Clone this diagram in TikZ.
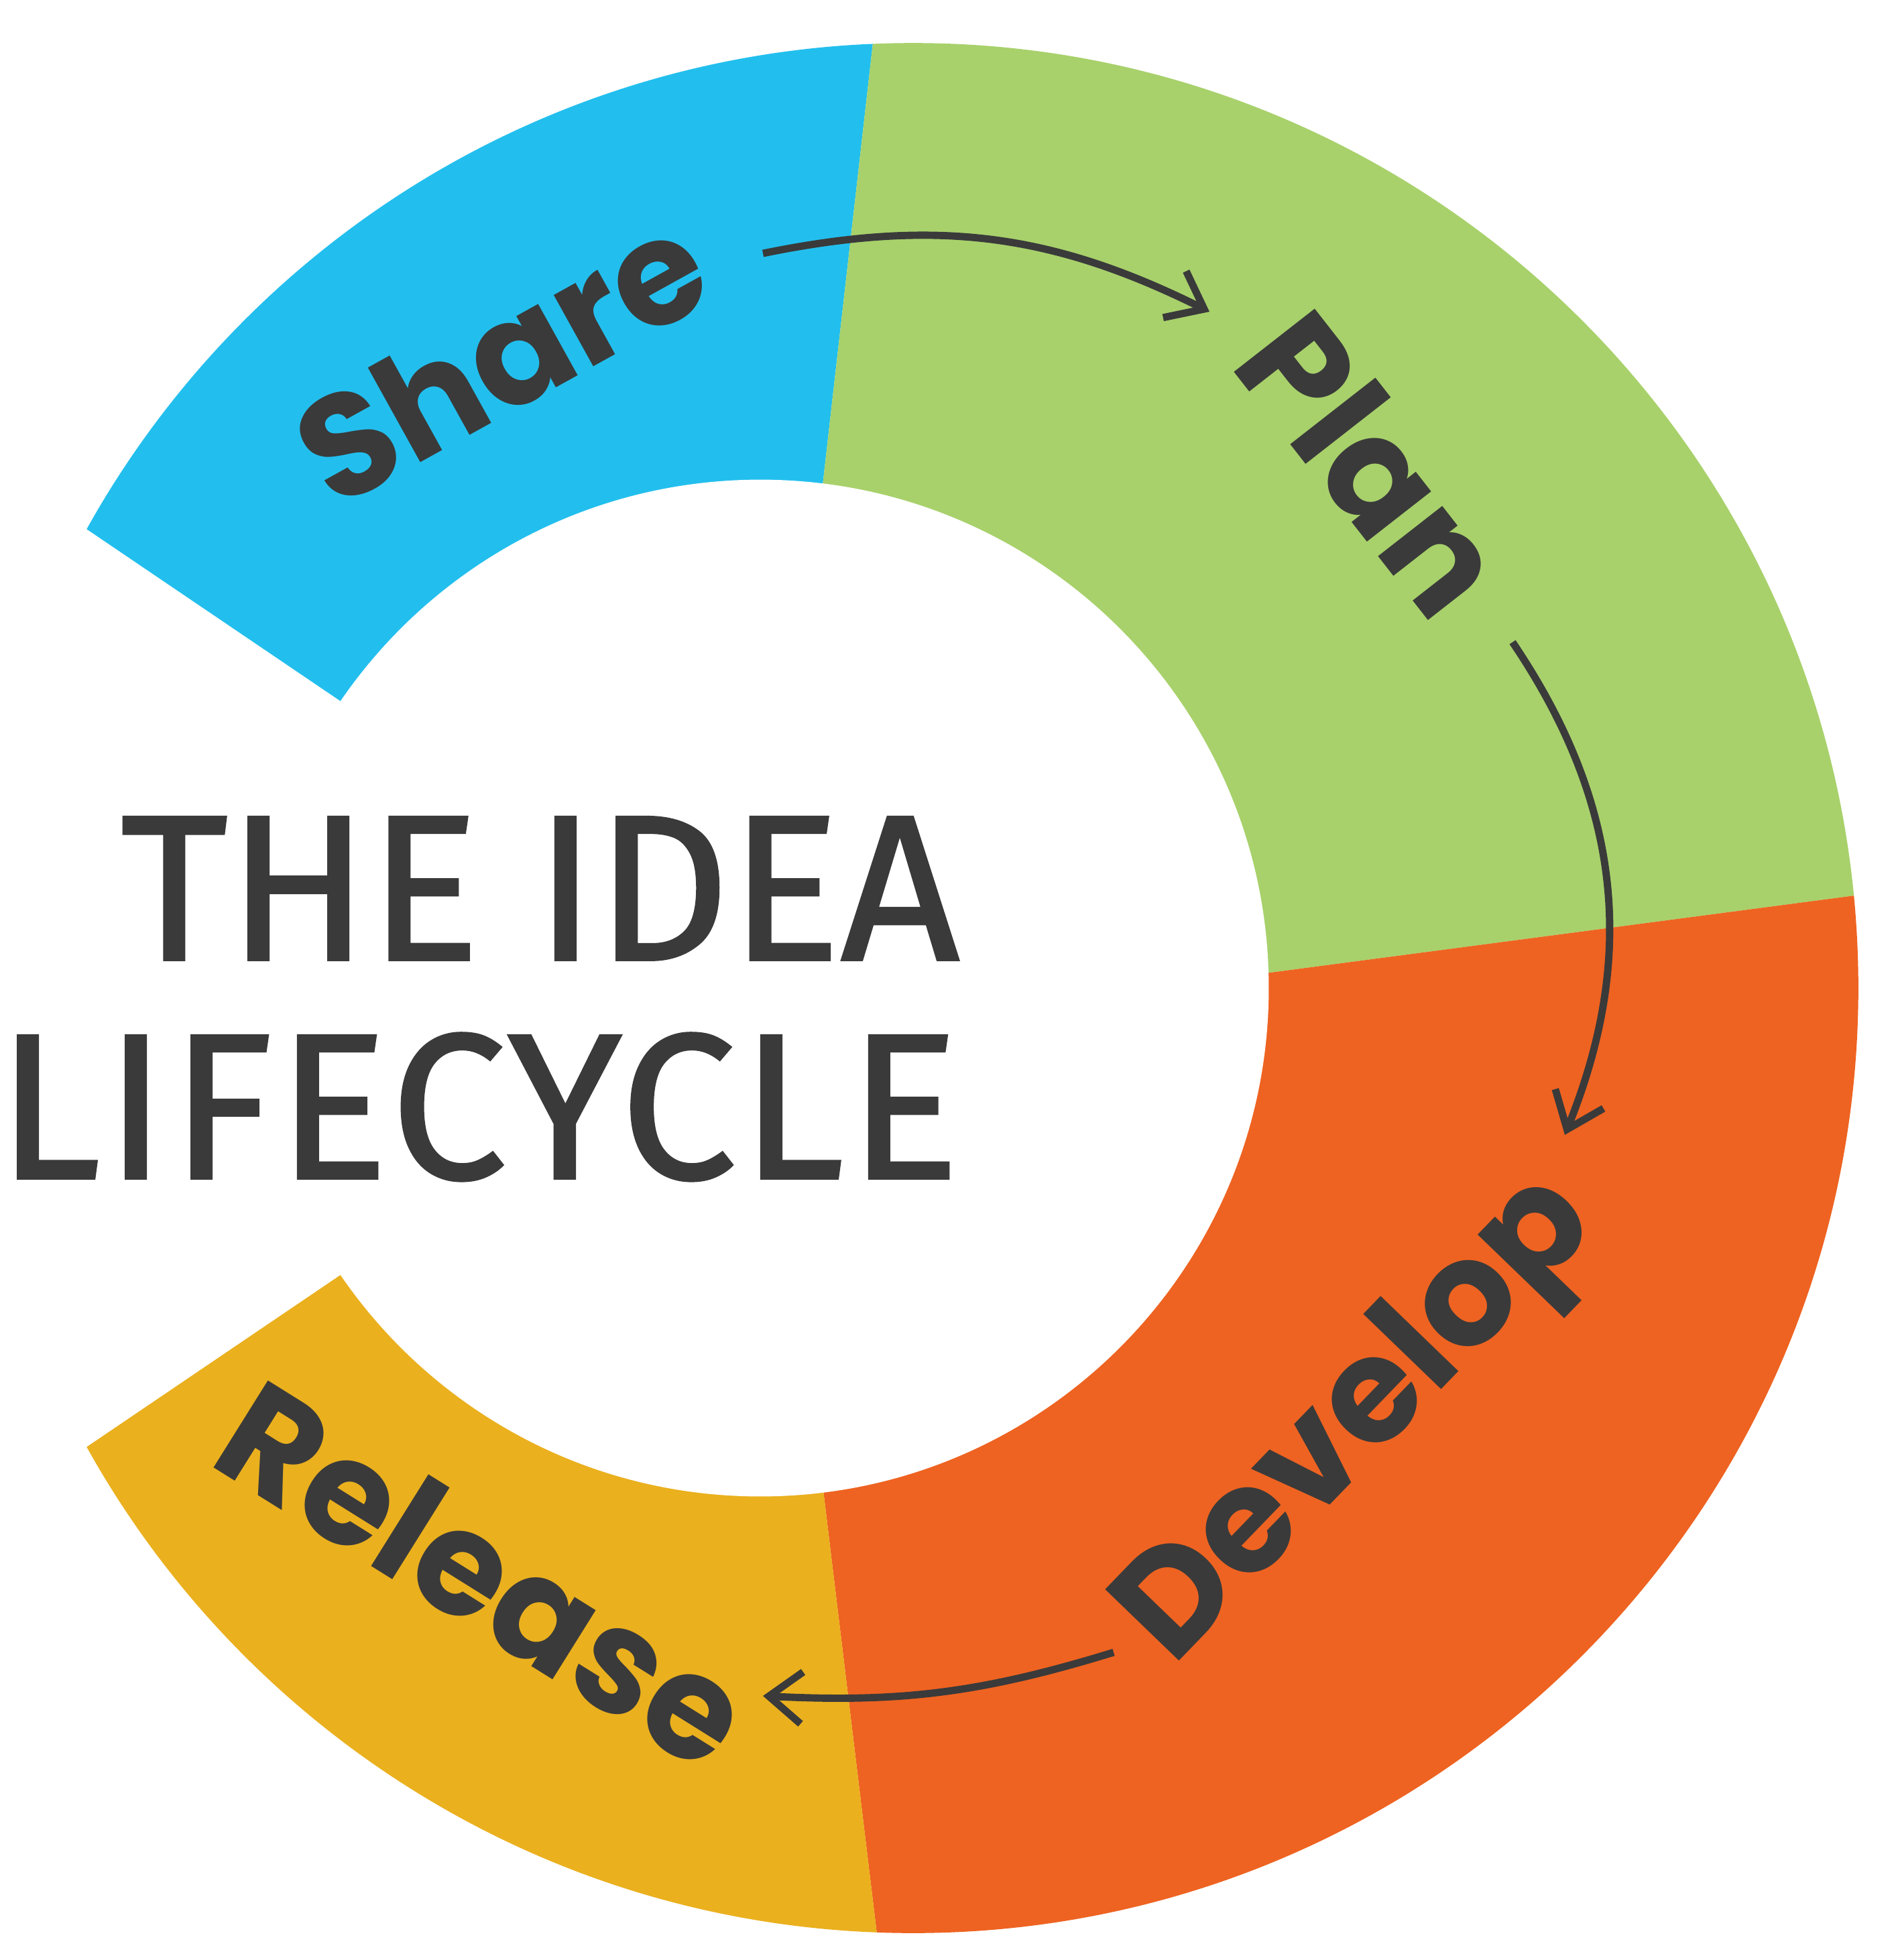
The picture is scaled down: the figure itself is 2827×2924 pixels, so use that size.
\documentclass[tikz,border=0pt]{standalone}
\usepackage{fontspec}
\usepackage{tikz}
\usetikzlibrary{arrows.meta, positioning, calc}
\newfontfamily\titlefont{Fira Sans}[FakeBold=1.2]
\newfontfamily\handfont{Poppins}
\definecolor{shareblue}{HTML}{22BFEE}
\definecolor{plangreen}{HTML}{A8D16B}
\definecolor{devorange}{HTML}{EE6321}
\definecolor{relyellow}{HTML}{EAB01E}
\definecolor{ink}{HTML}{3A3A3A}
\tikzstyle{stage} = [font=\handfont\bfseries\fontsize{62}{62}\selectfont, text=ink, inner sep=0pt]
\tikzstyle{headline} = [font=\titlefont\fontsize{88}{92}\selectfont, text=ink, inner sep=0pt, anchor=base east]
\tikzstyle{flow} = [draw=ink, line width=3.1pt, -{Straight Barb[length=14pt, width=22pt]}]

\begin{document}
\begin{tikzpicture}[x=0.01cm, y=-0.01cm]
		\useasboundingbox (0,0) rectangle (2827,2924);
		\fill[white] (0,0) rectangle (2827,2924);

		% ring, cut into four parts
		\begin{scope}
			\clip (1362,1474) circle[radius=14.09cm];
			\fill[shareblue]  (688,1168)  -- (-100,634)  -- (-100,-200) -- (1332,-200) -- (1191,1041) -- cycle;
			\fill[plangreen]  (1191,1041) -- (1332,-200) -- (3100,-200) -- (3100,1292) -- (1629,1486) -- cycle;
			\fill[devorange]  (1629,1486) -- (3100,1292) -- (3100,3150) -- (1340,3150) -- (1189,1901) -- cycle;
			\fill[relyellow]  (1189,1901) -- (1340,3150) -- (-100,3150) -- (-100,2314) -- (688,1780)  -- cycle;
		\end{scope}
		\fill[white] (1134,1474) circle[radius=7.58cm];

		\coordinate (sharetail)   at (1138, 378);
		\coordinate (planhead)    at (1804, 465);
		\coordinate (plantail)    at (2256, 958);
		\coordinate (develophead) at (2334, 1693);
		\coordinate (developtail) at (1661, 2465);
		\coordinate (releasehead) at (1138, 2530);

		\node[headline] (idea)  at (1432, 1432) {THE IDEA};
		\node[headline] (cycle) at (1432, 1758) {\addfontfeature{LetterSpace=2.2}LIFECYCLE};

		\node[stage, rotate=29]  (share)   at (747, 533)   {Share};
		\node[stage, rotate=-52] (plan)    at (2048, 691)  {Plan};
		\node[stage, rotate=46]  (develop) at (2030, 2123) {Develop};
		\node[stage, rotate=-32] (release) at (723, 2348)  {Release};

		\draw[flow] (sharetail) to[bend left=19] (planhead);
		\draw[flow] (plantail) to[bend left=28] (develophead);
		\draw[flow] (developtail) to[bend left=10] (releasehead);

	\end{tikzpicture}
\end{document}
